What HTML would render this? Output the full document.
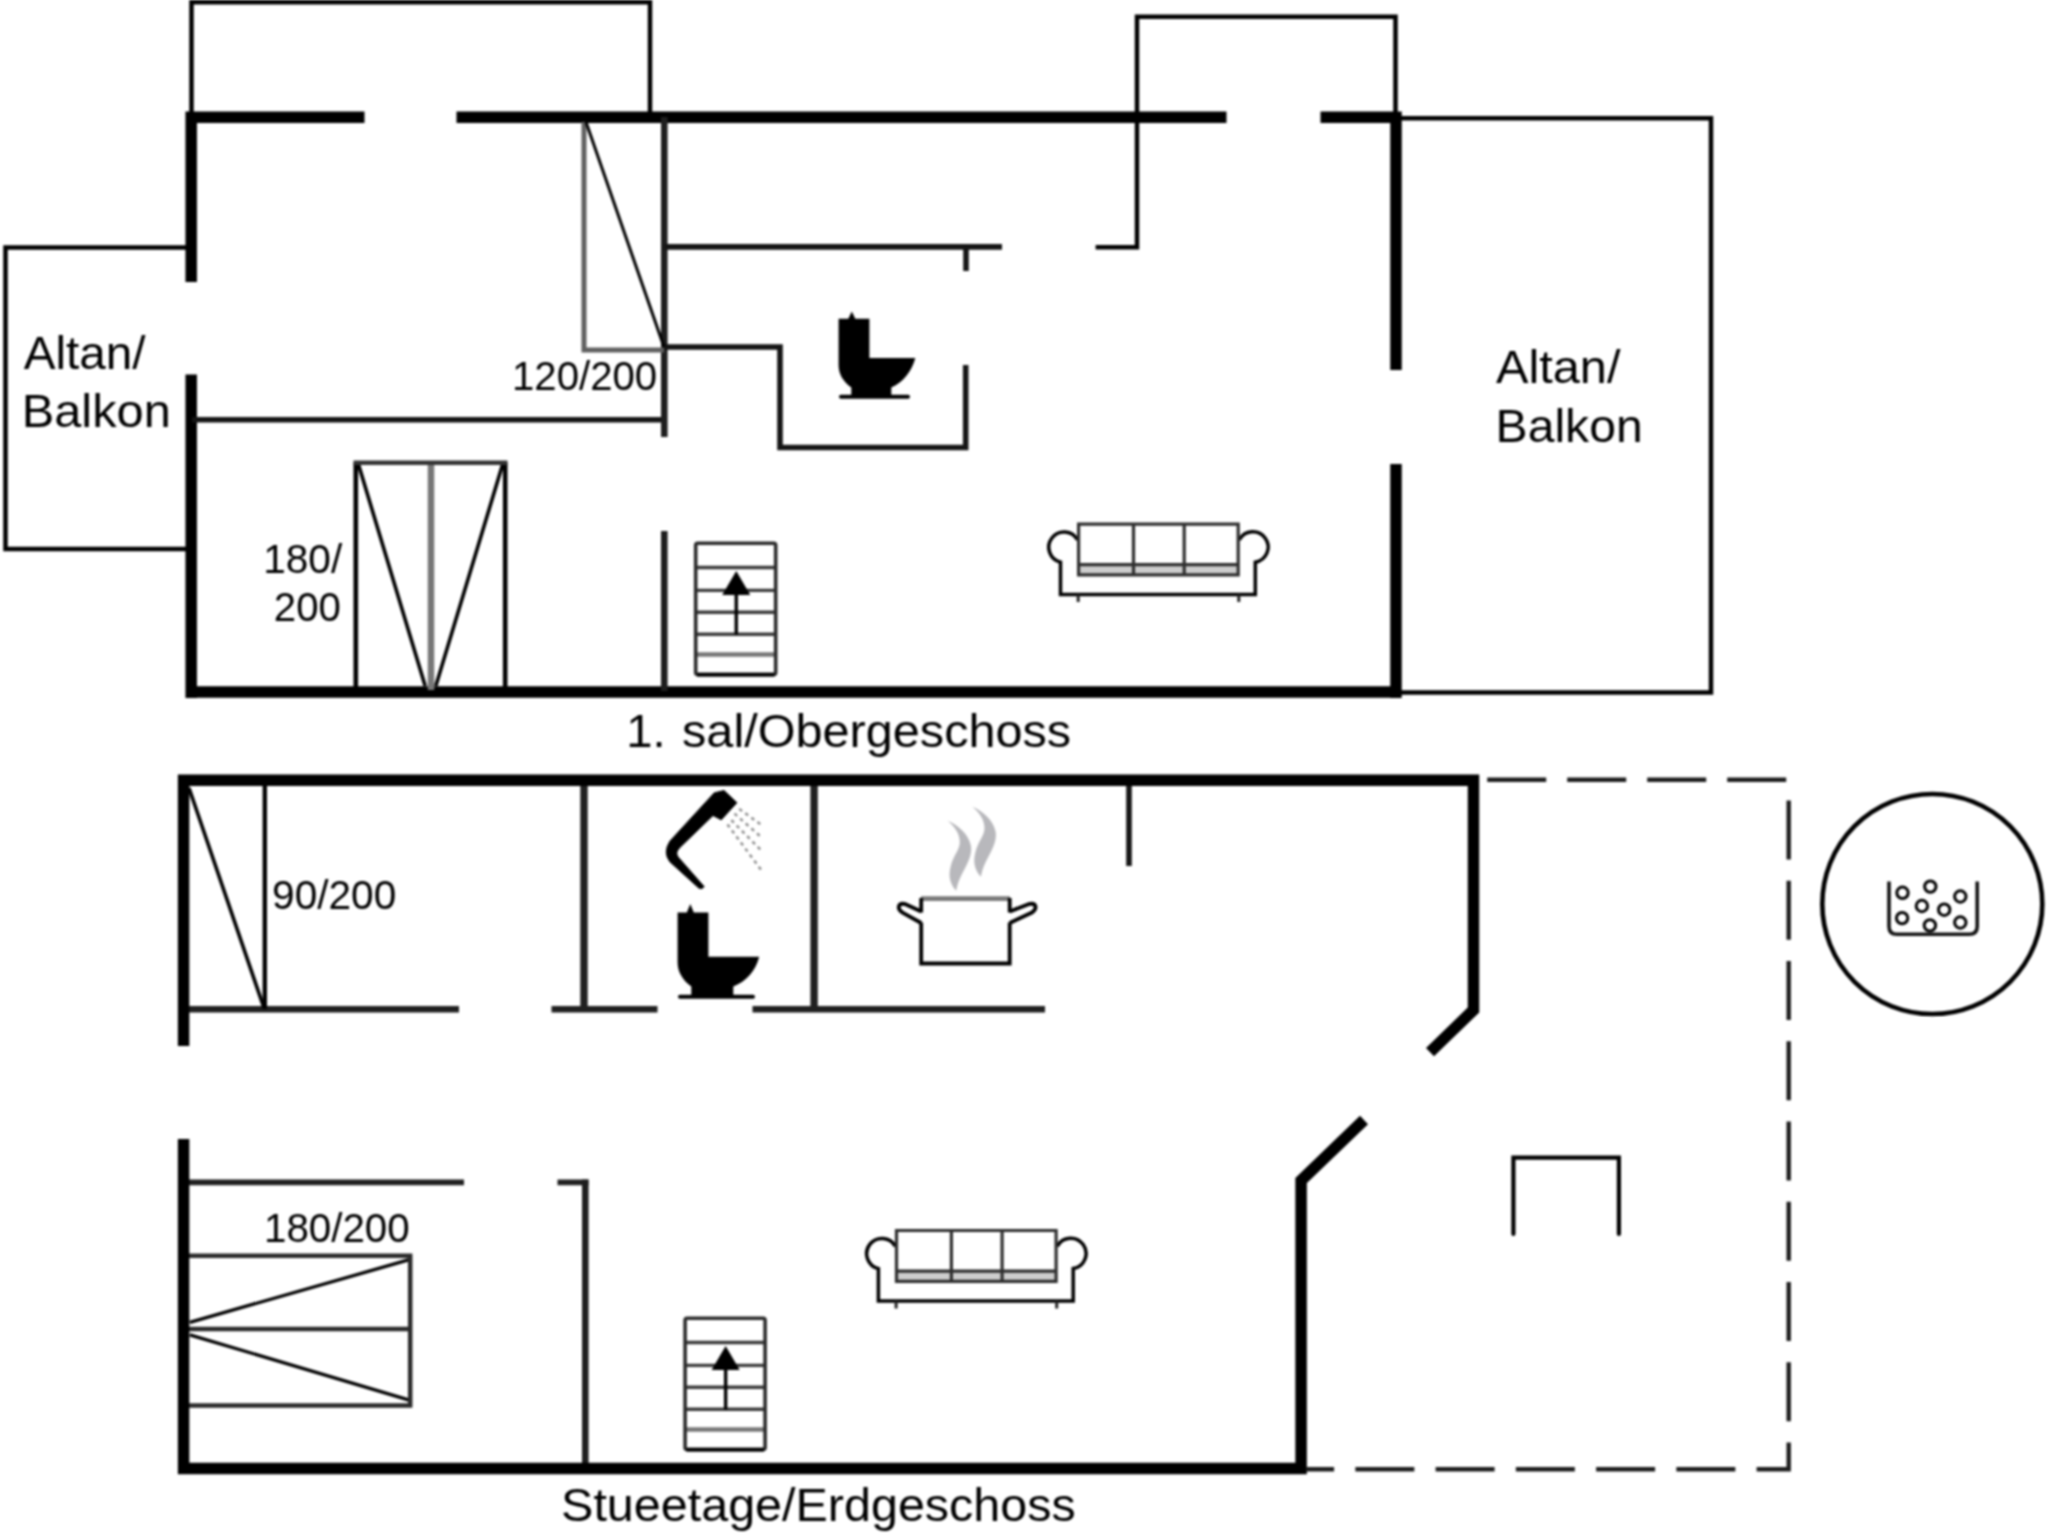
<!DOCTYPE html>
<html>
<head>
<meta charset="utf-8">
<title>Floor plan</title>
<style>
html,body{margin:0;padding:0;background:#fff;}
body{width:2048px;height:1536px;overflow:hidden;position:relative;font-family:"Liberation Sans",sans-serif;}
svg{position:absolute;left:0;top:0;display:block;filter:blur(0.85px);}
text{font-family:"Liberation Sans",sans-serif;fill:#000;}
.wall{stroke:#000;stroke-width:11.5;fill:none;stroke-linecap:butt;}
.thin{stroke:#000;stroke-width:4.5;fill:none;}
.iw{stroke:#151515;stroke-width:5.6;fill:none;}
.iwv{stroke:#1e1e1e;stroke-width:6.6;fill:none;}
.lw{stroke:#202020;stroke-width:6.4;fill:none;}
.lwv{stroke:#202020;stroke-width:7.4;fill:none;}
.bed{stroke:#2a2a2a;stroke-width:4.5;fill:none;}
.fine{stroke:#000;stroke-width:3.3;fill:none;}
.gray{stroke:#606060;stroke-width:5;fill:none;}
</style>
</head>
<body>
<svg width="2048" height="1536" viewBox="0 0 2048 1536">
<rect x="0" y="0" width="2048" height="1536" fill="#fff"/>

<!-- ================= UPPER FLOOR ================= -->
<g id="upper">
  <!-- thin boxes on top -->
  <path class="thin" d="M191.5 117 V2.3 H650 V117"/>
  <path class="thin" d="M1095.6 247.2 H1137 V16.8 H1395.5 V117"/>
  <!-- left balcony -->
  <path class="thin" d="M190 247.5 H5.5 V549 H190"/>
  <!-- right balcony -->
  <path class="thin" d="M1400 118.2 H1711 V692.5 H1400"/>
  <!-- thick walls -->
  <path class="wall" d="M364.5 117.2 H185.5 M191.2 111.5 V282 M191.2 374.5 V698 M185.5 692.1 H1401.7 M1396 698 V464 M1396 370 V111.5 M1401.7 117.2 H1320.5 M1226.5 117.2 H456.5"/>
  <!-- interior thin walls -->
  <path class="iw" d="M192 419.8 H664"/>
  <path class="iwv" d="M664.3 117 V437 M664.3 531 V691"/>
  <path class="iw" d="M664 246.9 H1002"/>
  <path class="iw" d="M966 247 V271"/>
  <path class="iw" d="M664 347 H780 V447.5 H965.7 V365"/>
  <!-- bed 120/200 -->
  <path class="gray" d="M584 122 V350 H664"/>
  <path class="fine" d="M586 122 L664 347" style="stroke-width:3"/>
  <!-- bed 180/200 -->
  <path d="M431 463 V690" stroke="#777" stroke-width="6.5" fill="none"/>
  <path class="fine" d="M358.5 464.6 L425.2 686 M502.6 464.6 L435.8 686" style="stroke-width:3.6"/>
  <path d="M355.8 691 V462.8 M505.2 462.8 V691" stroke="#000" stroke-width="4.6" fill="none"/>
  <path d="M353.5 462.8 H507.5" stroke="#333" stroke-width="4.6" fill="none"/>
</g>

<!-- ================= LOWER FLOOR ================= -->
<g id="lower">
  <!-- interior -->
  <path class="lw" d="M184 1009.3 H459 M551.5 1009.3 H657.5 M752.5 1009.3 H1045"/>
  <path class="lwv" d="M584 785 V1010 M814.1 785 V1010"/>
  <path class="iw" d="M1129 785 V866"/>
  <path class="lw" d="M184 1182.4 H464 M557.5 1182.4 H588.5" style="stroke-width:5.6"/>
  <path class="iwv" d="M585.3 1179.6 V1468"/>
  <!-- bed 90/200 -->
  <path d="M264.8 785 V1009" stroke="#000" stroke-width="4.4" fill="none"/>
  <path class="fine" d="M189 788 L264 1008" style="stroke-width:3.6"/>
  <!-- bed 180/200 -->
  <path class="fine" d="M189.8 1322.3 L409.3 1259.7 M189.8 1334.8 L409.3 1400.1"/>
  <path class="bed" d="M188 1255.7 H412.4 M188 1329.1 H410 M188 1405.6 H412.4 M410.2 1255.7 V1405.6"/>
  <!-- outer walls -->
  <path class="wall" d="M177.9 780.3 H1479.2 M1473.5 774.6 V1010 L1430 1052.2 M1364 1120 L1301.1 1180.5 V1474.3 M1306.8 1468.6 H177.9 M183.6 1474.3 V1139 M183.6 1046 V774.6"/>
  <!-- dashed terrace -->
  <path d="M1487.2 779.7 H1788.9" fill="none" stroke="#1c1c1c" stroke-width="4.4" stroke-dasharray="59 21"/>
  <path d="M1788.7 800.4 V1469.3 H1306" fill="none" stroke="#1c1c1c" stroke-width="4.4" stroke-dasharray="59 21.25"/>
  <!-- small U -->
  <path d="M1513.4 1234 V1157.7 H1618.9 V1234" stroke="#000" stroke-width="4.2" fill="none" stroke-linecap="round"/>
  <!-- circle -->
  <circle cx="1932.3" cy="904" r="110" fill="none" stroke="#000" stroke-width="4.6"/>
</g>


<!-- ================= ICONS ================= -->
<defs>
  <g id="sofa">
    <rect x="1079.5" y="565" width="158" height="10" fill="#cdcdcd"/>
    <path d="M1077.5 540 A15.3 15.3 0 1 0 1060.5 562.2 V594.6 H1255.3 V562.2 A15.3 15.3 0 1 0 1239.3 540" fill="none" stroke="#000" stroke-width="3.5"/>
    <path d="M1078.2 594.6 V602 M1238.8 594.6 V602" stroke="#222" stroke-width="3" fill="none"/>
    <path d="M1078.6 524.1 H1238.2 V574.9 H1078.6 Z M1133.5 524.1 V574.9 M1184.2 524.1 V574.9 M1078.6 564.7 H1238.2" fill="none" stroke="#2e2e2e" stroke-width="3.2"/>
  </g>
  <g id="stairs">
    <path d="M696 567.5 H776 M696 590.4 H776 M696 612.3 H776 M696 634.2 H776" stroke="#3a3a3a" stroke-width="3.4" fill="none"/>
    <path d="M696 654.5 H776" stroke="#777" stroke-width="4.5" fill="none"/>
    <rect x="695.7" y="543.3" width="80" height="131.3" rx="2" fill="none" stroke="#2a2a2a" stroke-width="3.6"/>
    <path d="M697 674.6 H774.5" stroke="#000" stroke-width="3.6" fill="none"/>
    <path d="M736.25 634.5 V590" stroke="#000" stroke-width="3.4" fill="none"/>
    <path d="M736.25 571 L750.3 595 H722.2 Z" fill="#000"/>
  </g>
</defs>

<use href="#sofa"/>
<use href="#sofa" transform="translate(-182.1 706.4)"/>
<use href="#stairs"/>
<use href="#stairs" transform="translate(-10.6 775)"/>

<!-- toilet upper -->
<g fill="#000" stroke="none">
  <path d="M838.6 318.8 H848.3 L851.8 311.5 L855.3 318.8 H869.4 V358 H915.3 C912 371 903.5 382 891.3 387.5 V395.5 H851.3 V387.5 C843 381.5 838.6 374 838.6 365 Z"/>
  <path d="M841 396.7 H908" stroke="#000" stroke-width="4" stroke-linecap="round"/>
</g>
<!-- toilet lower -->
<g fill="#000" stroke="none">
  <path d="M677.6 912.4 H686.8 L690.3 904 L693.8 912.4 H708.4 V956.7 H759.2 C755.5 971 746.5 981 733.3 986.6 V995.5 H691.3 V986.6 C682.5 980 677.6 972 677.6 962 Z"/>
  <path d="M680 996.7 H753" stroke="#000" stroke-width="4" stroke-linecap="round"/>
</g>

<!-- shower -->
<g>
  <path d="M714.2 792.9 L724 790.5 L736.9 802.7 L721.25 819.8 L713 815.5 L679.8 847.6 Q674.5 853 678.5 857.5 L704.1 886.6 L702.1 888.6 L699 888.2 L670.1 862 Q662.5 852.5 670.1 840.9 Z" fill="#000" stroke="#000" stroke-width="1" stroke-linejoin="round"/>
  <g stroke="#8a8a8a" stroke-width="2.4" stroke-dasharray="3.5 4" fill="none">
    <path d="M739.2 808.9 L761.9 825.3"/>
    <path d="M734.5 813.6 L760.3 836.3"/>
    <path d="M731.4 820.2 L761.9 851.1"/>
    <path d="M727.5 824.5 L761.1 869.8"/>
  </g>
</g>

<!-- pot -->
<g>
  <path id="steam" d="M947.6 820.8 C958 825 968.5 834 971 846 C972.5 856 966 866 961 876 C958.5 881 957 886 956.2 890.8 C950 884 948 876 950.8 866 C953 856 959.8 850 959.8 842 C959.8 834 955 827 947.6 820.8 Z" fill="#b8b8bc"/>
  <use href="#steam" transform="translate(24.7 -14)"/>
  <path d="M921 898.6 H1010" stroke="#7a7a7a" stroke-width="4.6" fill="none"/>
  <path d="M921.2 912.5 V898 M1009.7 898 V912.5 M1009.7 922.5 V963.5 H921.2 V922.5" fill="none" stroke="#000" stroke-width="3.8"/>
  <path d="M921.2 911.5 L905.5 904.2 Q900 902.7 898.8 906.5 Q898.3 910 903 912.8 L921.2 923" fill="none" stroke="#000" stroke-width="3.8" stroke-linejoin="round"/>
  <path d="M1009.7 911.5 L1028.5 904.2 Q1034.5 902.7 1035.5 906.5 Q1036 910 1031.5 912.8 L1009.7 923" fill="none" stroke="#000" stroke-width="3.8" stroke-linejoin="round"/>
</g>

<!-- tub -->
<g fill="none" stroke="#000">
  <path d="M1889 881.5 V926.5 Q1889 934.3 1897 934.3 H1969 Q1977.2 934.3 1977.2 926.5 V881.5" stroke-width="3.6" stroke="#111"/>
  <g stroke-width="3">
    <circle cx="1902.5" cy="892.8" r="5.7"/>
    <circle cx="1930.3" cy="886.6" r="5.7"/>
    <circle cx="1960.3" cy="896.5" r="5.7"/>
    <circle cx="1921.9" cy="906" r="5.7"/>
    <circle cx="1944.2" cy="909.7" r="5.7"/>
    <circle cx="1902.1" cy="918.1" r="5.7"/>
    <circle cx="1929.9" cy="925.4" r="5.7"/>
    <circle cx="1960.3" cy="922.5" r="5.7"/>
  </g>
</g>

<!-- ================= TEXT ================= -->
<g id="labels">
  <text transform="translate(23.75 368.75) scale(1.0363 1)" font-size="46">Altan/</text>
  <text transform="translate(21.66 427.2) scale(1.0604 1)" font-size="46">Balkon</text>
  <text transform="translate(1495.9 383) scale(1.0598 1)" font-size="46">Altan/</text>
  <text transform="translate(1495.62 442) scale(1.0455 1)" font-size="46">Balkon</text>
  <text transform="translate(511.96 389.7) scale(0.9799 1)" font-size="41">120/200</text>
  <text transform="translate(263.13 572.8) scale(0.9909 1)" font-size="41">180/</text>
  <text transform="translate(273.84 621.3) scale(0.98 1)" font-size="41">200</text>
  <text transform="translate(272.12 909.3) scale(0.9898 1)" font-size="41">90/200</text>
  <text transform="translate(263.95 1242) scale(0.984 1)" font-size="41">180/200</text>
  <text transform="translate(626.18 746.5) scale(1.0387 1)" font-size="45.5">1.</text>
  <text transform="translate(682.06 746.5) scale(1.0687 1)" font-size="45.5">sal/Obergeschoss</text>
  <text transform="translate(561.07 1521) scale(1.0654 1)" font-size="45.5">Stueetage/Erdgeschoss</text>
</g>
</svg>
</body>
</html>
